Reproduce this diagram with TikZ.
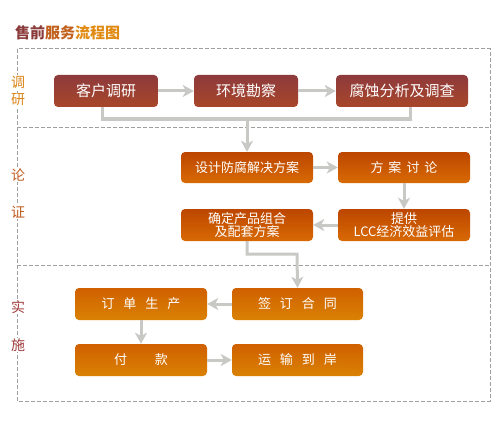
\documentclass[tikz,border=0pt]{standalone}
\usepackage{fontspec}
\setmainfont{Noto Sans CJK SC}
\usetikzlibrary{arrows.meta}
\definecolor{bordergray}{HTML}{A0A0A0}
\definecolor{arrgray}{HTML}{C8C8C4}
\definecolor{redtop}{HTML}{8E3A3C}
\definecolor{redbot}{HTML}{A8462A}
\definecolor{orgtop}{HTML}{BC4600}
\definecolor{orgbot}{HTML}{D86A04}
\definecolor{yeltop}{HTML}{D06000}
\definecolor{yelbot}{HTML}{DA8204}
\definecolor{titA}{HTML}{8B3A3A}
\definecolor{titB}{HTML}{C2601E}
\definecolor{titC}{HTML}{E08A12}
\definecolor{labA}{HTML}{DC8418}
\definecolor{labB}{HTML}{C05A20}
\definecolor{labC}{HTML}{A03C3C}
\tikzset{
  x=1pt, y=-1pt,
  fbox/.style={rounded corners=4pt, minimum height=32pt, inner sep=0pt, text=white, align=center, font=\fontsize{13}{13}\selectfont},
  redbox/.style={fbox, top color=redtop, bottom color=redbot, font=\fontsize{15}{15}\selectfont},
  orgbox/.style={fbox, top color=orgtop, bottom color=orgbot},
  yelbox/.style={fbox, top color=yeltop, bottom color=yelbot},
  conn/.style={draw=arrgray, line width=3pt},
  arr/.style={conn, -{Stealth[length=11pt,width=12pt,inset=3pt]}},
  sidelab/.style={fill=white, inner sep=1pt, font=\fontsize{14}{14}\selectfont},
  frame/.style={draw=bordergray, line width=1pt, dash pattern=on 4pt off 2pt}
}
\begin{document}
\begin{tikzpicture}
\useasboundingbox (0,0) rectangle (500,425);
% title
\node[anchor=west, inner sep=0pt, font=\fontsize{15}{15}\selectfont\bfseries] (title) at (15,33)
  {\textcolor{titA}{售前}\textcolor{titB}{服务}\textcolor{titC}{流程图}};
% frame
\draw[frame] (17,49) rectangle (490,401);
\draw[frame] (17,127) -- (490,127);
\draw[frame] (17,265) -- (490,265);
% side labels
\node[sidelab, text=labA] (l1) at (18,82) {调};
\node[sidelab, text=labA] (l2) at (18,100) {研};
\node[sidelab, text=labB] (l3) at (18,175) {论};
\node[sidelab, text=labB] (l4) at (18,212) {证};
\node[sidelab, text=labC] (l5) at (18,307) {实};
\node[sidelab, text=labC] (l6) at (18,345) {施};
% row 1
\node[redbox, minimum width=104pt] (kehu) at (106,91) {客户调研};
\node[redbox, minimum width=104pt] (huanjing) at (246,91) {环境勘察};
\node[redbox, minimum width=132pt] (fushi) at (402,91) {腐蚀分析及调查};
% row 2,3
\node[orgbox, minimum width=132pt, minimum height=31pt] (sheji) at (247,167.5) {设计防腐解决方案};
\node[orgbox, minimum width=132pt, minimum height=31pt] (taolun) at (404,167.5) {方\hspace{5pt}案\hspace{5pt}讨\hspace{5pt}论};
\node[orgbox, minimum width=132pt] (queding) at (247,225) {确定产品组合\\及配套方案};
\node[orgbox, minimum width=132pt] (tigong) at (404,225) {提供\\LCC经济效益评估};
% row 4,5
\node[yelbox, minimum width=132pt] (dingdan) at (141,304) {订\hspace{9pt}单\hspace{9pt}生\hspace{9pt}产};
\node[yelbox, minimum width=131pt] (qianding) at (297.5,304) {签\hspace{9pt}订\hspace{9pt}合\hspace{9pt}同};
\node[yelbox, minimum width=132pt] (fukuan) at (141,360) {付\hspace{28pt}款};
\node[yelbox, minimum width=131pt] (yunshu) at (297.5,360) {运\hspace{9pt}输\hspace{9pt}到\hspace{9pt}岸};
% connectors
\coordinate (j1) at (246,119);
\coordinate (j2) at (297,254);
\draw[conn] ([xshift=-4pt]kehu.south) -- ([xshift=-4pt]kehu.south |- j1) -- ([xshift=8pt]fushi.south |- j1) -- ([xshift=8pt]fushi.south);
\draw[arr] (sheji.north |- j1) -- (sheji.north);
\draw[arr] (kehu.east) -- (huanjing.west);
\draw[arr] (huanjing.east) -- (fushi.west);
\draw[arr] (sheji.east) -- (taolun.west);
\draw[arr] (taolun.south) -- (tigong.north);
\draw[arr] (tigong.west) -- (queding.east);
\draw[arr] (queding.south) -- (queding.south |- j2) -- (j2) -- (qianding.north);
\draw[arr] (qianding.west) -- (dingdan.east);
\draw[arr] (dingdan.south) -- (fukuan.north);
\draw[arr] (fukuan.east) -- (yunshu.west);
\end{tikzpicture}
\end{document}
